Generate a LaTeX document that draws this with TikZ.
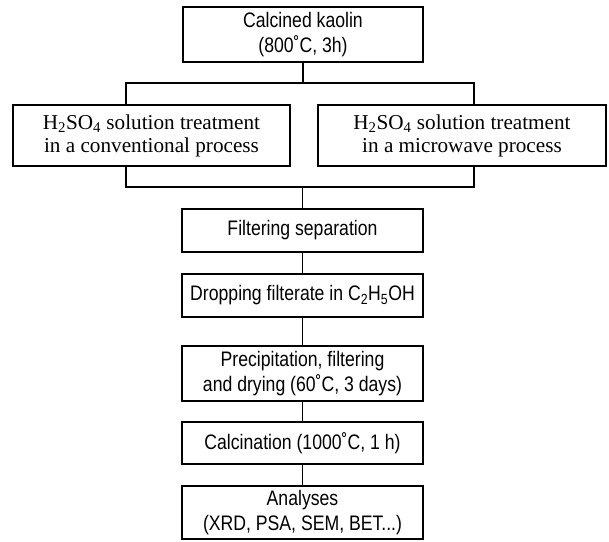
\documentclass[tikz,border=0pt]{standalone}
\usepackage{fontspec}
\setmainfont{Liberation Serif}
\newfontfamily\cf[FakeStretch=0.84]{Liberation Sans}
\begin{document}
\begin{tikzpicture}[x=1pt,y=-1pt,
  box/.style={draw=black,line width=1.3pt,rectangle,inner sep=0pt,align=center,anchor=center},
  sbox/.style={box,font=\cf\fontsize{21}{25}\selectfont},
  tbox/.style={box,font=\fontsize{21.2}{23}\selectfont},
  link/.style={draw=black,line width=1.1pt}]
\useasboundingbox (0,0) rectangle (609,541);
\fill[white] (0,0) rectangle (609,541);
\node[sbox,minimum width=240pt,minimum height=55pt] (kaolin) at (303,34.5) {Calcined kaolin\\(800˚C, 3h)};
\node[tbox,minimum width=277pt,minimum height=61pt] (conv) at (151.5,135.5) {H\textsubscript{2}SO\textsubscript{4} solution treatment\\in a conventional process};
\node[tbox,minimum width=288pt,minimum height=61pt] (micro) at (462,135.5) {H\textsubscript{2}SO\textsubscript{4} solution treatment\\in a microwave process};
\node[sbox,minimum width=241pt,minimum height=43pt] (filt) at (302.5,230.5) {Filtering separation};
\node[sbox,minimum width=241pt,minimum height=43pt] (drop) at (302.5,295.5) {Dropping filterate in C\textsubscript{2}H\textsubscript{5}OH};
\node[sbox,minimum width=241pt,minimum height=55pt] (prec) at (302.5,373.5) {Precipitation, filtering\\and drying (60˚C, 3 days)};
\node[sbox,minimum width=241pt,minimum height=42pt] (calc) at (302.5,443) {Calcination (1000˚C, 1 h)};
\node[sbox,minimum width=241pt,minimum height=53pt] (anal) at (302.5,512.5) {Analyses\\(XRD, PSA, SEM, BET...)};
\coordinate (tl) at (126,83);
\coordinate (tr) at (474,83);
\coordinate (bl) at (126,187);
\coordinate (br) at (474,187);
\draw[link] (kaolin.south) -- (kaolin.south |- tl);
\draw[link] (conv.north -| tl) -- (tl) -- (tr) -- (micro.north -| tr);
\draw[link] (conv.south -| bl) -- (bl) -- (br) -- (micro.south -| br);
\draw[link] (filt.north) -- (filt.north |- bl);
\draw[link] (filt) -- (drop);
\draw[link] (drop) -- (prec);
\draw[link] (prec) -- (calc);
\draw[link] (calc) -- (anal);
\end{tikzpicture}
\end{document}
